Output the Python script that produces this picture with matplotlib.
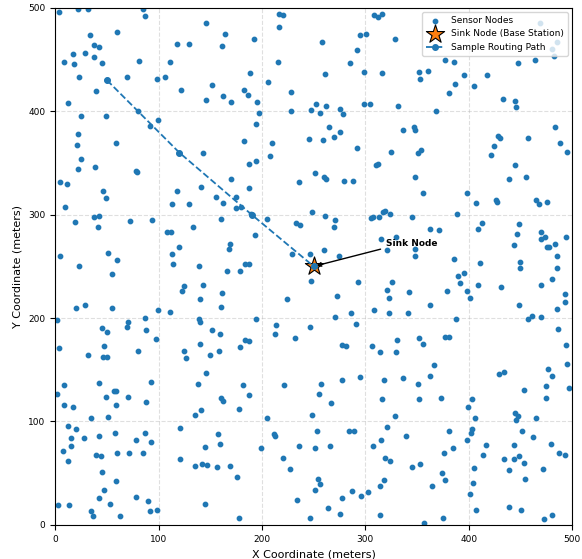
import matplotlib
matplotlib.use("Agg")
import matplotlib.pyplot as plt

# sensor node positions (meters)
nodes_top_left = [
    (4, 496), (22, 499), (32, 499), (85, 499), (87, 492), (146, 485), (164, 475), (60, 477),
    (34, 474), (37, 464), (42, 462), (118, 465), (129, 465), (161, 463), (17, 455), (29, 456),
    (37, 452), (8, 448), (18, 446), (45, 447), (81, 449), (111, 448), (23, 433), (50, 430),
    (69, 433), (98, 431), (106, 433), (152, 425), (122, 421), (39, 420), (162, 415), (146, 411),
    (12, 408), (80, 400), (25, 395), (49, 395), (99, 392), (92, 386), (22, 378), (21, 367),
    (59, 369), (120, 360), (143, 360), (25, 354), (22, 344), (38, 346), (78, 342), (79, 341),
]
nodes_top_mid = [
    (216, 494), (220, 493), (216, 481), (192, 470), (258, 467), (295, 474), (301, 475), (308, 493),
    (312, 491), (316, 494), (329, 470), (292, 459), (285, 447), (215, 448), (188, 437), (261, 436),
    (299, 438), (316, 437), (206, 428), (183, 421), (186, 416), (170, 409), (195, 409), (228, 419),
    (252, 407), (262, 405), (299, 407), (304, 407), (332, 405), (247, 401), (256, 398), (275, 402),
    (278, 397), (197, 398), (228, 400), (194, 388), (265, 385), (275, 380), (270, 375), (259, 372),
    (245, 373), (336, 382), (183, 371), (210, 369), (292, 364), (325, 361), (208, 357), (187, 349),
    (194, 352), (310, 348), (312, 349), (251, 340),
]
nodes_top_right = [
    (469, 485), (485, 467), (481, 460),
    (377, 450), (386, 448), (448, 447), (464, 450), (482, 453), (352, 438), (361, 439), (353, 431),
    (395, 435), (418, 435), (387, 426), (381, 418), (405, 424), (433, 412), (445, 410), (446, 404),
    (368, 400), (347, 385), (348, 382), (351, 360), (354, 363), (483, 385), (428, 376), (430, 374),
    (457, 374), (488, 369), (495, 361), (424, 366), (422, 358), (445, 348),
]
nodes_mid_left = [
    (5, 332), (11, 330), (46, 323), (49, 316), (9, 307), (118, 323), (141, 327), (155, 317),
    (162, 311), (113, 310), (129, 310), (19, 293), (37, 298), (42, 299), (41, 288), (72, 294),
    (94, 295), (133, 288), (160, 296), (108, 283), (112, 283), (120, 269), (113, 262), (114, 252),
    (5, 260), (51, 263), (60, 256), (23, 250), (55, 243), (139, 250), (125, 231), (123, 226),
    (143, 232), (161, 224), (140, 218), (160, 211), (20, 210), (29, 213), (55, 210), (99, 208),
    (111, 206), (2, 198), (139, 199), (140, 196), (70, 196), (87, 200), (69, 191), (45, 190),
    (50, 187), (88, 188), (97, 180), (152, 188), (159, 185), (4, 171), (47, 173), (140, 175),
]
nodes_center = [
    (170, 334), (187, 326), (175, 317), (175, 306), (180, 307), (189, 301), (205, 296), (236, 332),
    (260, 336), (262, 334), (279, 333), (288, 333), (248, 303), (261, 299), (271, 295), (270, 288),
    (233, 292), (237, 290), (305, 297), (307, 298), (313, 298), (317, 303), (319, 304), (324, 301),
    (193, 280), (169, 272), (168, 267), (315, 276), (330, 278), (321, 266), (260, 266), (229, 262),
    (246, 262), (274, 260), (184, 252), (187, 252), (166, 246), (179, 246), (247, 236), (293, 235),
    (326, 235), (321, 227), (323, 219), (273, 221), (224, 218), (308, 208), (286, 205), (323, 205),
    (271, 201), (194, 199), (291, 194), (214, 193), (246, 191), (213, 185), (232, 181), (184, 179),
    (187, 178), (179, 172), (277, 174), (281, 173), (331, 179), (306, 173),
]
nodes_mid_right = [
    (348, 336), (439, 334), (455, 336), (356, 321), (398, 321), (407, 311), (426, 314), (427, 312),
    (465, 314), (468, 310), (476, 312), (345, 298), (389, 301), (413, 292), (409, 286), (363, 286),
    (371, 285), (449, 291), (447, 281), (444, 271), (470, 283), (474, 278), (470, 276), (494, 278),
    (476, 269), (478, 269), (483, 272), (348, 267), (348, 260), (485, 260), (386, 257), (411, 253),
    (450, 254), (450, 248), (485, 248), (390, 241), (395, 244), (392, 234), (409, 232), (431, 230),
    (470, 232), (481, 238), (342, 225), (379, 226), (398, 226), (401, 219), (493, 223), (493, 216),
    (363, 213), (449, 213), (485, 209), (341, 205), (388, 199), (457, 199), (461, 202), (470, 201),
    (486, 189), (352, 181), (356, 175), (377, 182), (381, 182), (494, 174),
]
nodes_bottom_left = [
    (32, 164), (46, 162), (50, 162), (80, 168), (125, 168), (126, 161), (150, 164), (158, 168),
    (146, 147), (8, 135), (2, 127), (42, 137), (93, 138), (138, 136), (57, 129), (59, 129),
    (49, 124), (70, 124), (8, 116), (17, 114), (59, 116), (88, 119), (160, 123), (162, 120),
    (135, 106), (141, 111), (35, 103), (51, 104), (12, 96), (20, 93), (15, 84), (28, 84),
    (42, 86), (58, 89), (87, 89), (121, 94), (78, 82), (93, 80), (157, 88), (15, 76),
    (145, 75), (159, 78), (7, 71), (12, 62), (39, 68), (44, 67), (60, 70), (71, 70),
    (85, 70), (121, 64), (135, 57), (142, 59), (147, 58), (156, 56), (45, 51), (59, 42),
    (47, 34), (42, 26), (78, 27), (53, 20), (90, 23), (3, 19), (13, 19), (145, 20),
    (35, 13), (36, 9), (63, 9), (92, 13), (98, 14),
]
nodes_bottom_mid = [
    (314, 167), (330, 167), (182, 135), (187, 126), (221, 135), (257, 136), (255, 127), (277, 140),
    (295, 143), (318, 140), (336, 142), (267, 118), (316, 122), (178, 112), (205, 103), (248, 106),
    (329, 105), (321, 95), (212, 88), (213, 86), (253, 91), (284, 91), (289, 91), (199, 74),
    (236, 76), (251, 74), (266, 76), (315, 82), (307, 76), (220, 65), (319, 65), (324, 62),
    (169, 57), (227, 54), (176, 46), (254, 44), (256, 40), (251, 34), (287, 33), (277, 26),
    (296, 28), (303, 32), (314, 38), (318, 43), (234, 24), (264, 16), (275, 11), (246, 7),
    (178, 7), (314, 10),
]
nodes_bottom_right = [
    (366, 155), (363, 144), (351, 136), (352, 122), (373, 123), (429, 146), (434, 148), (477, 151),
    (481, 144), (495, 156), (475, 134), (497, 132), (453, 130), (475, 123), (403, 122), (399, 114),
    (445, 108), (448, 105), (446, 101), (465, 103), (406, 103), (339, 86), (381, 91), (403, 93),
    (402, 89), (452, 91), (462, 85), (398, 82), (376, 70), (385, 74), (417, 77), (414, 68),
    (444, 77), (480, 78), (487, 70), (493, 68), (434, 64), (444, 64), (449, 67), (453, 60),
    (439, 53), (472, 54), (345, 56), (353, 59), (374, 50), (377, 43), (364, 38), (405, 55),
    (404, 41), (401, 30), (454, 44), (407, 14), (439, 17), (451, 14), (481, 10), (473, 6),
    (375, 7), (357, 2),
]

sink_x, sink_y = 250, 250
path_x = [50, 120, 190, 250]
path_y = [430, 360, 300, 250]

all_nodes = (nodes_top_left + nodes_top_mid + nodes_top_right + nodes_mid_left + nodes_center
             + nodes_mid_right + nodes_bottom_left + nodes_bottom_mid + nodes_bottom_right)
node_x = [p[0] for p in all_nodes]
node_y = [p[1] for p in all_nodes]

fig, ax = plt.subplots(figsize=(5.82, 5.59), dpi=100)
fig.subplots_adjust(left=0.095, right=0.983, bottom=0.061, top=0.986)

ax.scatter(node_x, node_y, s=10, color="#1f77b4", label="Sensor Nodes", zorder=2)
ax.scatter([sink_x], [sink_y], marker="*", s=190, color="#ff7f0e", edgecolor="black",
           linewidth=0.8, label="Sink Node (Base Station)", zorder=3)
ax.plot(path_x, path_y, linestyle="--", marker="o", markersize=4, color="#1f77b4",
        linewidth=1.3, label="Sample Routing Path", zorder=4)

ax.annotate("Sink Node", xy=(sink_x, sink_y), xytext=(320, 268),
            fontsize=6.5, fontweight="bold", ha="left", va="bottom",
            arrowprops=dict(arrowstyle="->", color="black", lw=1, relpos=(0, 0)))

ax.set_xlim(0, 500)
ax.set_ylim(0, 500)
ax.set_xlabel("X Coordinate (meters)", fontsize=8)
ax.set_ylabel("Y Coordinate (meters)", fontsize=8)
ax.tick_params(labelsize=6.5)
ax.grid(True, linestyle="--", alpha=0.4)
ax.legend(loc="upper right", fontsize=6.5)

plt.savefig("out.png", dpi=100)
